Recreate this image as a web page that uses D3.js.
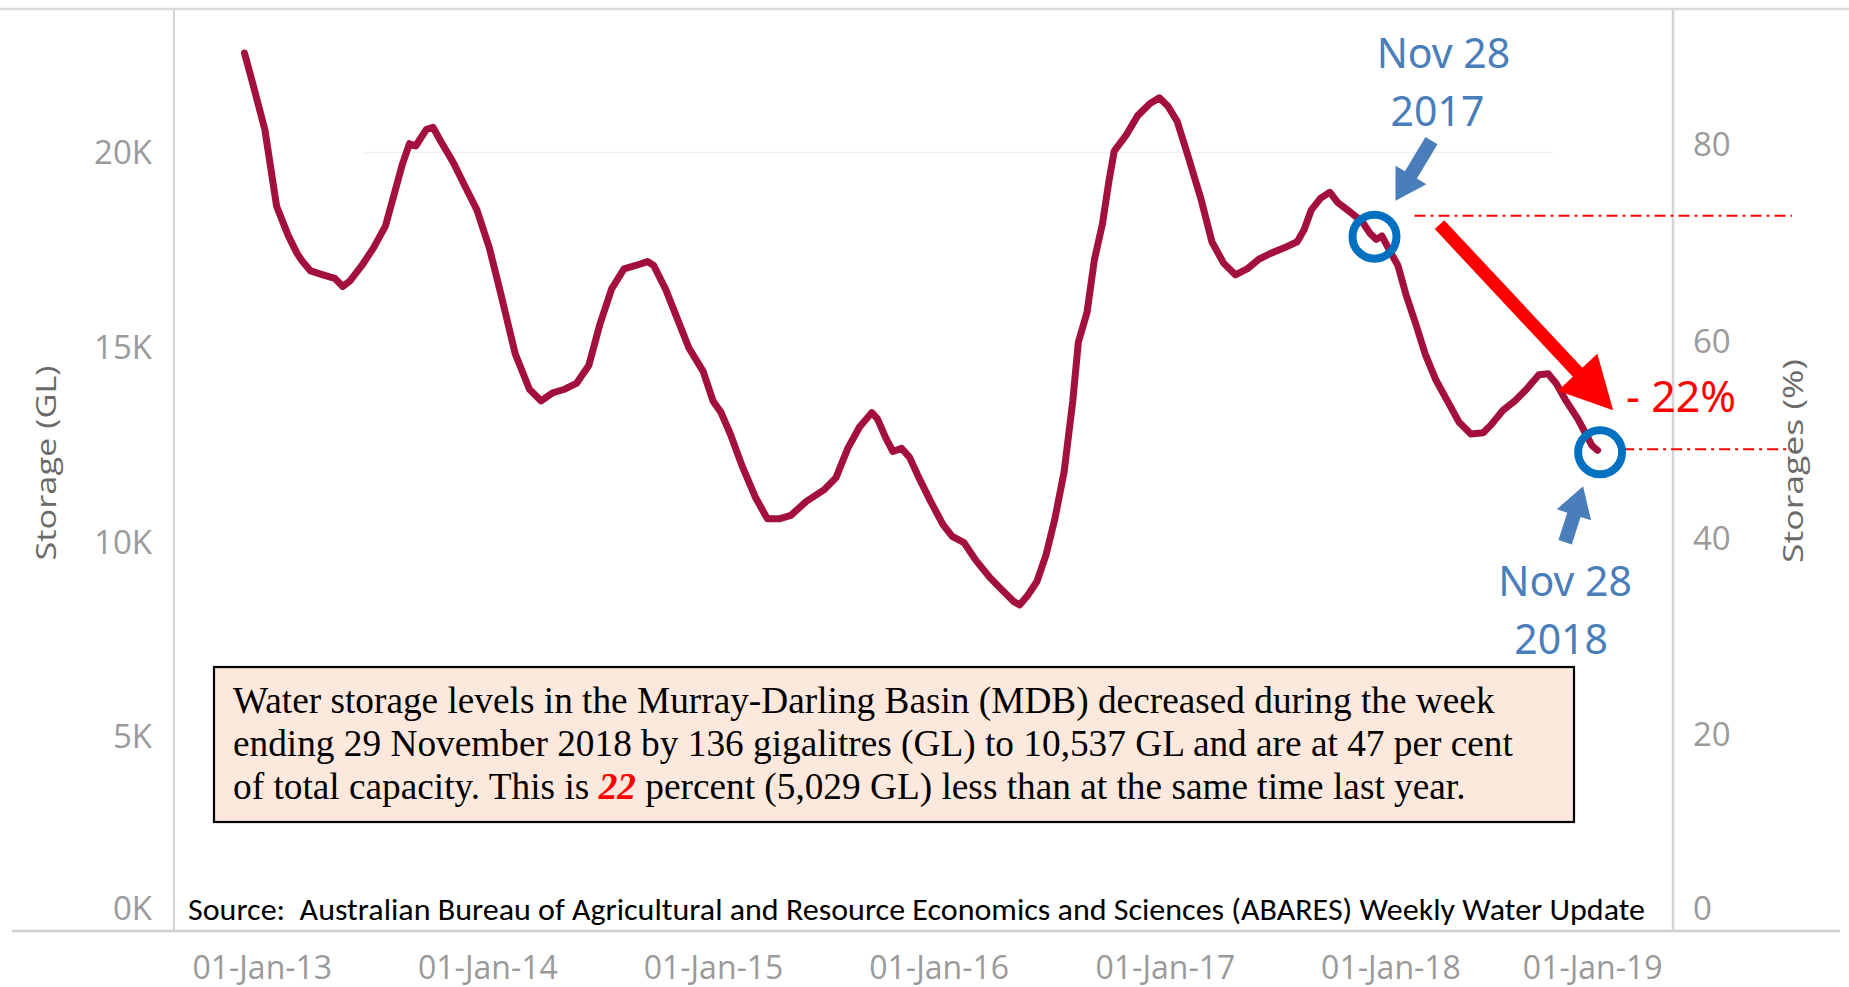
<!DOCTYPE html>
<html><head><meta charset="utf-8">
<script src="https://cdn.jsdelivr.net/npm/d3@7"></script>
<style>body{margin:0;background:#fff;} svg{display:block}</style>
</head><body>
<svg id="chart" width="1849" height="987"></svg>
<script>
// ---------- data ----------
const dates = ["2012-12-04","2012-12-17","2013-01-06","2013-01-25","2013-02-13","2013-02-27","2013-03-08","2013-03-21","2013-04-10","2013-04-29","2013-05-12","2013-05-24","2013-06-12","2013-07-01","2013-07-20","2013-08-03","2013-08-16","2013-08-28","2013-09-07","2013-09-24","2013-10-05","2013-10-18","2013-11-07","2013-11-26","2013-12-15","2014-01-04","2014-01-23","2014-02-15","2014-03-10","2014-03-29","2014-04-17","2014-05-06","2014-05-25","2014-06-14","2014-07-02","2014-07-21","2014-08-10","2014-08-29","2014-09-17","2014-09-27","2014-10-16","2014-11-04","2014-11-23","2014-12-16","2015-01-01","2015-01-14","2015-01-29","2015-02-17","2015-03-11","2015-03-30","2015-04-18","2015-05-07","2015-06-01","2015-06-30","2015-07-19","2015-08-07","2015-08-26","2015-09-15","2015-09-24","2015-10-08","2015-10-19","2015-11-02","2015-11-15","2015-11-30","2015-12-19","2016-01-08","2016-01-23","2016-02-11","2016-03-01","2016-03-24","2016-04-12","2016-05-01","2016-05-11","2016-05-24","2016-06-08","2016-06-23","2016-07-07","2016-07-22","2016-08-05","2016-08-14","2016-08-28","2016-09-09","2016-09-22","2016-10-02","2016-10-11","2016-10-30","2016-11-18","2016-12-08","2016-12-23","2017-01-06","2017-01-21","2017-02-09","2017-02-28","2017-03-18","2017-04-06","2017-04-25","2017-05-14","2017-06-02","2017-06-21","2017-07-14","2017-08-03","2017-08-14","2017-08-26","2017-09-10","2017-09-25","2017-10-08","2017-10-28","2017-11-16","2017-11-29","2017-12-09","2017-12-18","2017-12-30","2018-01-13","2018-01-26","2018-02-11","2018-02-26","2018-03-15","2018-04-03","2018-04-22","2018-05-11","2018-05-31","2018-06-13","2018-07-02","2018-07-21","2018-08-09","2018-08-29","2018-09-13","2018-09-26","2018-10-12","2018-10-31","2018-11-13","2018-11-23","2018-12-02"];
const storageGL = [22560,21800,20590,18620,17860,17410,17200,16960,16860,16770,16560,16710,17100,17560,18110,18920,19680,20230,20170,20590,20650,20280,19740,19130,18530,17560,16350,14830,13920,13620,13830,13920,14070,14530,15590,16500,17010,17100,17200,17100,16500,15740,14980,14380,13620,13320,12770,11950,11130,10590,10590,10680,11040,11340,11650,12400,12950,13320,13160,12650,12320,12400,12170,11650,11040,10440,10140,9980,9530,9080,8770,8470,8380,8620,8980,9680,10590,11800,13620,15130,15890,17250,18170,19220,20040,20440,20950,21260,21410,21190,20800,19830,18830,17710,17160,16860,17010,17260,17410,17560,17710,18010,18530,18830,18980,18710,18470,18230,17920,17770,17860,17500,17100,16350,15590,14830,14170,13620,13070,12770,12800,13010,13380,13620,13920,14290,14320,14070,13620,13160,12770,12470,12350];
const leftTicks = [0,5000,10000,15000,20000];
const leftTickLabels = ["0K","5K","10K","15K","20K"];
const rightTicks = [0,20,40,60,80];
const xTickDates = ["2013-01-01","2014-01-01","2015-01-01","2016-01-01","2017-01-01","2018-01-01","2019-01-01"];
const xTickLabels = ["01-Jan-13","01-Jan-14","01-Jan-15","01-Jan-16","01-Jan-17","01-Jan-18","01-Jan-19"];
const markDates = ["2017-11-28","2018-11-28"];
const markLabels = [["Nov 28","2017"],["Nov 28","2018"]];
const changeLabel = "- 22%";
const leftTitle = "Storage (GL)";
const rightTitle = "Storages (%)";
const boxLines = [
  [{t:"Water storage levels in the Murray-Darling Basin (MDB) decreased during the week"}],
  [{t:"ending 29 November 2018 by 136 gigalitres (GL) to 10,537 GL and are at 47 per cent"}],
  [{t:"of total capacity. This is "},{t:"22",red:true},{t:" percent (5,029 GL) less than at the same time last year."}]
];
const sourceText = "Source:  Australian Bureau of Agricultural and Resource Economics and Sciences (ABARES) Weekly Water Update";

// ---------- layout ----------
const parse = d3.timeParse("%Y-%m-%d");
const data = dates.map((d,i)=>({date:parse(d), v:storageGL[i]}));
const L = 174, R = 1673, T = 10, B = 931;
const x = d3.scaleTime().domain([parse("2012-08-12"), parse("2019-04-03")]).range([L, R]);
const y = d3.scaleLinear().domain([0, 23664]).range([B, T]);
const yR = d3.scaleLinear().domain([0, 93.7]).range([B, T]);

const svg = d3.select("#chart");
const tickFont = "'Open Sans', 'Noto Sans', sans-serif";
const tickColor = "#9a9a9a";

// frame lines
svg.append("line").attr("x1",0).attr("x2",1849).attr("y1",9).attr("y2",9).attr("stroke","#d9d9d9").attr("stroke-width",2.5);
svg.append("line").attr("x1",12).attr("x2",1840).attr("y1",B).attr("y2",B).attr("stroke","#d0d0d0").attr("stroke-width",2.5);
svg.append("line").attr("x1",L).attr("x2",L).attr("y1",10).attr("y2",B).attr("stroke","#d4d4d4").attr("stroke-width",2);
svg.append("line").attr("x1",R).attr("x2",R).attr("y1",10).attr("y2",B).attr("stroke","#d4d4d4").attr("stroke-width",2.5);

// faint gridline
svg.append("line").attr("x1",L+190).attr("x2",R-120).attr("y1",y(20000)).attr("y2",y(20000)).attr("stroke","#f1f1f1").attr("stroke-width",1.5);

// left axis
const gL = svg.append("g").attr("transform",`translate(${L},0)`)
  .call(d3.axisLeft(y).tickValues(leftTicks).tickSize(0).tickPadding(22).tickFormat((d,i)=>leftTickLabels[i]));
gL.select(".domain").remove();
gL.selectAll("text").attr("font-family",tickFont).attr("font-size",33).attr("fill",tickColor)
  .attr("dy",(d)=> d===0 ? "-0.35em" : "0.34em");

// right axis
const gR = svg.append("g").attr("transform",`translate(${R},0)`)
  .call(d3.axisRight(yR).tickValues(rightTicks).tickSize(0).tickPadding(20).tickFormat(d3.format("d")));
gR.select(".domain").remove();
gR.selectAll("text").attr("font-family",tickFont).attr("font-size",33).attr("fill",tickColor)
  .attr("dy",(d)=> d===0 ? "-0.35em" : "0.34em");

// x axis
const gX = svg.append("g").attr("transform",`translate(0,${B})`)
  .call(d3.axisBottom(x).tickValues(xTickDates.map(parse)).tickSize(0).tickPadding(25).tickFormat((d,i)=>xTickLabels[i]));
gX.select(".domain").remove();
gX.selectAll("text").attr("font-family",tickFont).attr("font-size",32).attr("fill",tickColor)
  .attr("text-anchor",(d,i)=> i===xTickLabels.length-1 ? "end":"middle")
  .attr("dx",(d,i)=> i===xTickLabels.length-1 ? 46 : 0);

// axis titles
svg.append("text").attr("transform",`translate(56,463) rotate(-90)`).attr("text-anchor","middle")
  .attr("font-family",tickFont).attr("font-size",28).attr("fill","#6a6a6a")
  .attr("textLength",195).attr("lengthAdjust","spacingAndGlyphs").text(leftTitle);
svg.append("text").attr("transform",`translate(1803,461) rotate(-90)`).attr("text-anchor","middle")
  .attr("font-family",tickFont).attr("font-size",28).attr("fill","#6a6a6a")
  .attr("textLength",204).attr("lengthAdjust","spacingAndGlyphs").text(rightTitle);

// line
const line = d3.line().x(d=>x(d.date)).y(d=>y(d.v)).curve(d3.curveLinear);
svg.append("path").datum(data).attr("d",line).attr("fill","none")
  .attr("stroke","#a3103c").attr("stroke-width",7).attr("stroke-linejoin","round").attr("stroke-linecap","round");

// text box
const box = svg.append("g");
box.append("rect").attr("x",214).attr("y",667).attr("width",1360).attr("height",155)
  .attr("fill","#fce8dc").attr("stroke","#000").attr("stroke-width",2.2);
boxLines.forEach((ln,i)=>{
  const t = box.append("text").attr("x",233).attr("y",713+i*43)
    .attr("font-family","'Liberation Serif','Times New Roman',serif").attr("font-size",37.3).attr("fill","#000")
    .style("white-space","pre");
  ln.forEach(seg=>{
    const s = t.append("tspan").text(seg.t);
    if(seg.red) s.attr("fill","#ff0000").attr("font-style","italic").attr("font-weight","bold");
  });
});

// source
svg.append("text").attr("x",188).attr("y",920).attr("font-family","Carlito, Calibri, 'Open Sans', sans-serif")
  .attr("font-size",31).attr("fill","#000").style("white-space","pre")
  .attr("textLength",1457).attr("lengthAdjust","spacingAndGlyphs").text(sourceText);

// ---------- annotations ----------
const bis = d3.bisector(d=>d.date).left;
function valueAt(dt){
  const i = bis(data, dt); if(i<=0) return data[0].v; if(i>=data.length) return data[data.length-1].v;
  const a=data[i-1], b=data[i]; const f=(dt-a.date)/(b.date-a.date); return a.v+(b.v-a.v)*f;
}
const pts = markDates.map(s=>{const dt=parse(s); return [x(dt), y(valueAt(dt))];});

function blockArrow(x0,y0,x1,y1,sw,hw,hl,color){
  const dx=x1-x0, dy=y1-y0, len=Math.hypot(dx,dy), ux=dx/len, uy=dy/len, nx=-uy, ny=ux;
  const bx=x1-ux*hl, by=y1-uy*hl;
  const p=[[x0+nx*sw/2,y0+ny*sw/2],[bx+nx*sw/2,by+ny*sw/2],[bx+nx*hw/2,by+ny*hw/2],[x1,y1],
           [bx-nx*hw/2,by-ny*hw/2],[bx-nx*sw/2,by-ny*sw/2],[x0-nx*sw/2,y0-ny*sw/2]];
  svg.append("path").attr("d","M"+p.map(q=>q.join(",")).join("L")+"Z").attr("fill",color);
}

const blue = "#4a7ebb";
const annFont = "'Noto Sans','Open Sans',sans-serif";
const [c1,c2] = pts;

// dash-dot reference lines
svg.append("line").attr("x1",c1[0]+45).attr("x2",1792).attr("y1",c1[1]-17).attr("y2",c1[1]-17)
  .attr("stroke","#ff0000").attr("stroke-width",2).attr("stroke-dasharray","11,5,3,5");
svg.append("line").attr("x1",c2[0]+28).attr("x2",1792).attr("y1",c2[1]+1).attr("y2",c2[1]+1)
  .attr("stroke","#ff0000").attr("stroke-width",2).attr("stroke-dasharray","11,5,3,5");

// circles
pts.forEach(p=>{
  svg.append("circle").attr("cx",p[0]+5).attr("cy",p[1]+4).attr("r",22).attr("fill","none")
    .attr("stroke","#0070c0").attr("stroke-width",8);
});

// red arrow
blockArrow(c1[0]+70, c1[1]-8, c2[0]+18, c2[1]-38, 13, 54, 52, "#ff0000");
svg.append("text").attr("x",c2[0]+31).attr("y",c2[1]-36).attr("font-family",annFont)
  .attr("font-size",43).attr("fill","#ff0000").style("white-space","pre").text(changeLabel);

// blue arrows
blockArrow(c1[0]+62, c1[1]-92, c1[0]+26, c1[1]-32, 14, 36, 30, blue);
blockArrow(c2[0]-30, c2[1]+94, c2[0]-12, c2[1]+38, 14, 36, 30, blue);

// blue labels
const labelPos = [[[c1[0]+74, c1[1]-165],[c1[0]+68, c1[1]-107]],[[c2[0]-30, c2[1]+148],[c2[0]-34, c2[1]+206]]];
markLabels.forEach((lab,i)=>{
  lab.forEach((s,j)=>{
    svg.append("text").attr("x",labelPos[i][j][0]).attr("y",labelPos[i][j][1]).attr("text-anchor","middle")
      .attr("font-family",annFont).attr("font-size",41).attr("fill",blue).text(s);
  });
});
</script>
</body></html>
